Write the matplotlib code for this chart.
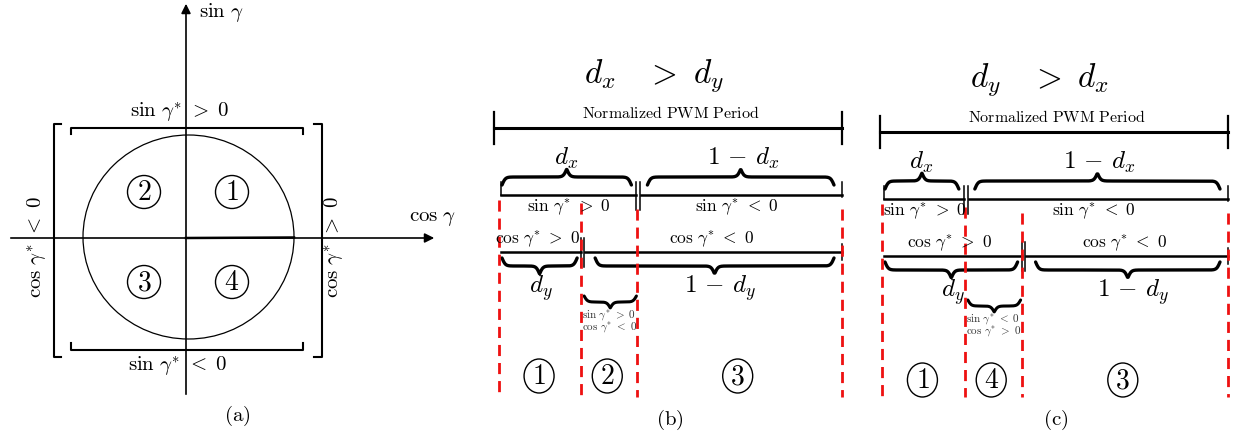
import numpy as np
import matplotlib.pyplot as plt
from matplotlib.patches import Ellipse

plt.rcParams['mathtext.fontset'] = 'cm'
plt.rcParams['font.family'] = 'DejaVu Serif'

# ---- content -------------------------------------------------------------
quadrant_labels = ['1', '2', '3', '4']
quadrant_signs = [(1, -1), (-1, -1), (-1, 1), (1, 1)]   # (x side, y side) in pixel space
bracket_labels = [r'$\sin\,\gamma^{*}\ >\ 0$', r'$\sin\,\gamma^{*}\ <\ 0$',
                  r'$\cos\,\gamma^{*}\ <\ 0$', r'$\cos\,\gamma^{*}\ >\ 0$']
axis_labels = [r'$\cos\,\gamma$', r'$\sin\,\gamma$']

titles = [r'$d_x\ \ \ >\ d_y$', r'$d_y\ \ \ >\ d_x$']
duty_x = [0.40, 0.235]
duty_y = [0.235, 0.40]
sin_labels = [r'$\sin\,\gamma^{*}\ >\ 0$', r'$\sin\,\gamma^{*}\ <\ 0$']
cos_labels = [r'$\cos\,\gamma^{*}\ >\ 0$', r'$\cos\,\gamma^{*}\ <\ 0$']
mid_labels = [(r'$\sin\,\gamma^{*}\ >\ 0$', r'$\cos\,\gamma^{*}\ <\ 0$'),
              (r'$\sin\,\gamma^{*}\ <\ 0$', r'$\cos\,\gamma^{*}\ >\ 0$')]
region_labels = [['1', '2', '3'], ['1', '4', '3']]
captions = ['(a)', '(b)', '(c)']

# ---- layout (pixels) -----------------------------------------------------
row_x0 = [501, 884]
row_x1 = [842, 1228]
bar_x0 = [494, 880]
y_off = [0, 4]


def brace(ax, x0, x1, y, h, lw=2.4, k=0.6):
    n = 300
    xs = np.linspace(x0, x1, n)
    mid = 0.5 * (x0 + x1)
    xm = np.where(xs <= mid, xs, x0 + x1 - xs)
    s = 1 / (1 + np.exp(-k * (xm - x0))) + 1 / (1 + np.exp(-k * (xm - mid)))
    ax.plot(xs, y + (s - 0.5) * h, color='k', lw=lw, solid_capstyle='round')


def circled(ax, x, y, s, w=30, h=33, fs=19):
    ax.add_patch(Ellipse((x, y), w, h, fill=False, lw=1.0, ec='k'))
    ax.text(x, y + 1, '$' + s + '$', ha='center', va='center', fontsize=fs)


fig = plt.figure(figsize=(12.4, 4.4), dpi=100)
ax = fig.add_axes([0, 0, 1, 1])
ax.set_xlim(0, 1240)
ax.set_ylim(440, 0)
ax.axis('off')

# ---- panel (a) -----------------------------------------------------------
cx, cy = 186, 238
ax.annotate('', xy=(437, cy), xytext=(8, cy),
            arrowprops=dict(arrowstyle='-|>', lw=1.2, color='k', mutation_scale=14))
ax.annotate('', xy=(cx, 1), xytext=(cx, 397),
            arrowprops=dict(arrowstyle='-|>', lw=1.2, color='k', mutation_scale=14))
ax.plot([cx, 294], [cy, cy - 0.5], color='k', lw=1.8)
ax.add_patch(Ellipse((188.5, 237), 211, 204, fill=False, lw=0.9, ec='k'))
ax.text(433, 218, axis_labels[0], ha='center', va='center', fontsize=15)
ax.text(199, 12, axis_labels[1], ha='left', va='center', fontsize=15)

# brackets
ax.plot([71, 71, 303, 303], [134, 128, 128, 134], color='k', lw=1.5)
ax.plot([71, 71, 303, 303], [343, 350, 350, 343], color='k', lw=1.5)
ax.plot([61, 54, 54, 61], [124, 124, 357, 357], color='k', lw=1.5)
ax.plot([314, 322, 322, 314], [124, 124, 357, 357], color='k', lw=1.5)
ax.text(180, 112, bracket_labels[0], ha='center', va='center', fontsize=15)
ax.text(178, 366, bracket_labels[1], ha='center', va='center', fontsize=15)
ax.text(37, 247, bracket_labels[2], ha='center', va='center', fontsize=15, rotation=90)
ax.text(334, 247, bracket_labels[3], ha='center', va='center', fontsize=15, rotation=90)

for lab, (sx, sy) in zip(quadrant_labels, quadrant_signs):
    circled(ax, 188 + sx * 44, 237 + sy * 45, lab, w=33, h=33, fs=20)
ax.text(237, 416, '$\\mathrm{' + captions[0] + '}$', ha='center', va='center', fontsize=15)

# ---- panels (b) and (c) --------------------------------------------------
for p in range(2):
    x0, x1, bx0, dy = row_x0[p], row_x1[p], bar_x0[p], y_off[p]
    span = x1 - x0
    xs = x0 + duty_x[p] * span
    xc = x0 + duty_y[p] * span
    bar_y = 128 + dy
    r1 = 195 + dy
    r2 = 252 + dy
    bc = 0.5 * (bx0 + x1)

    ax.text(bc - 14, 76 + dy, titles[p], ha='center', va='center', fontsize=24)
    ax.plot([bx0, x1], [bar_y, bar_y], color='k', lw=2.2)
    ax.plot([bx0, bx0], [bar_y - 16, bar_y + 16], color='k', lw=1.6)
    ax.plot([x1, x1], [bar_y - 16, bar_y + 16], color='k', lw=1.6)
    ax.text(bc + 3, bar_y - 14, r'$\mathrm{Normalized\ PWM\ Period}$',
            ha='center', va='center', fontsize=11.5)

    # sin row
    ax.plot([x0, xs - 1], [r1, r1], color='k', lw=1.8)
    ax.plot([xs + 4, x1], [r1, r1], color='k', lw=1.8)
    for xv in (xs - 1, xs + 3):
        ax.plot([xv, xv], [r1 - 13, r1 + 15], color='k', lw=1.1)
    ax.plot([x0, x0], [r1 - 13, r1], color='k', lw=1.1)
    ax.plot([x1, x1], [r1 - 13, r1 + 2], color='k', lw=1.1)
    brace(ax, x0 + 1, xs - 6, r1 - 10, -16)
    brace(ax, xs + 10, x1 - 8, r1 - 10, -16)
    ax.text(0.5 * (x0 + xs - 6), r1 - 37, '$d_x$', ha='center', va='center', fontsize=18)
    ax.text(0.5 * (xs + x1) + 3, r1 - 37, r'$1\,-\,d_x$', ha='center', va='center', fontsize=18)
    ax.text(0.5 * (x0 + xs), r1 + 13, sin_labels[0], ha='center', va='center', fontsize=12.5)
    ax.text(0.5 * (xs + x1) - 3, r1 + 13, sin_labels[1], ha='center', va='center', fontsize=12.5)

    # cos row
    ax.plot([x0, xc], [r2, r2], color='k', lw=1.8)
    ax.plot([xc + 4, x1], [r2, r2], color='k', lw=1.8)
    for xv in (xc, xc + 3):
        ax.plot([xv, xv], [r2 - 14, r2 + 15], color='k', lw=1.1)
    ax.plot([x1, x1], [r2 - 8, r2 + 8], color='k', lw=1.1)
    brace(ax, x0 + 1, xc - 4, r2 + 6, 16)
    brace(ax, xc + 14, x1 - 8, r2 + 6, 16)
    ax.text(0.5 * (x0 + xc), r2 + 36, '$d_y$', ha='center', va='center', fontsize=18)
    ax.text(0.5 * (xc + x1) + 8, r2 + 36, r'$1\,-\,d_y$', ha='center', va='center', fontsize=18)
    ax.text(0.5 * (x0 + xc) - 3, r2 - 12, cos_labels[0], ha='center', va='center', fontsize=12.5)
    ax.text(0.5 * (xc + x1), r2 - 12, cos_labels[1], ha='center', va='center', fontsize=12.5)

    # overlap interval
    lo, hi = min(xs, xc), max(xs, xc)
    brace(ax, lo + 3, hi - 1, r2 + 44, 12, lw=2.2)
    ax.text(0.5 * (lo + hi), r2 + 64, mid_labels[p][0], ha='center', va='center',
            fontsize=8, color='#333333')
    ax.text(0.5 * (lo + hi), r2 + 76, mid_labels[p][1], ha='center', va='center',
            fontsize=8, color='#333333')

    # red dashed boundaries
    for xv, ys in ((x0 - 2, r1 + 5), (lo, r1 + 8), (hi, r1 + 14), (x1, r1 + 14)):
        ax.plot([xv, xv], [ys, 397], color='#ee1111', lw=2.0, dashes=(4, 2.5))

    # regions
    edges = [x0, lo, hi, x1]
    for i, lab in enumerate(region_labels[p]):
        circled(ax, 0.5 * (edges[i] + edges[i + 1]) - 2, 376 + dy, lab, w=30, h=34, fs=20)

    ax.text(bc + 2, 420, '$\\mathrm{' + captions[p + 1] + '}$', ha='center', va='center', fontsize=15)

fig.savefig('out.png', dpi=100)
